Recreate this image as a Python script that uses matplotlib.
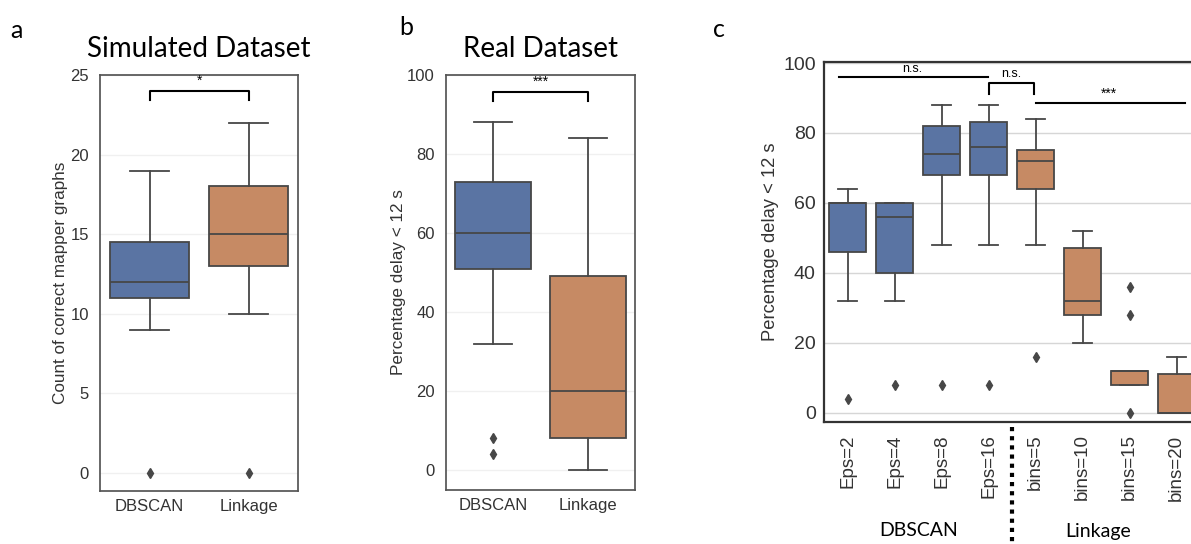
import matplotlib
matplotlib.use("Agg")
import matplotlib.pyplot as plt
import matplotlib.transforms as mtransforms

plt.rcParams['font.family'] = ['Liberation Sans', 'DejaVu Sans']

# ---- data ----
# panel a: simulated dataset, count of correct mapper graphs
a_labels = ["DBSCAN", "Linkage"]
a_q1 = [11, 13]
a_med = [12, 15]
a_q3 = [14.5, 18]
a_lo = [9, 10]
a_hi = [19, 22]
a_fliers = [[0], [0]]

# panel b: real dataset, percentage delay < 12 s
b_labels = ["DBSCAN", "Linkage"]
b_q1 = [51, 8]
b_med = [60, 20]
b_q3 = [73, 49]
b_lo = [32, 0]
b_hi = [88, 84]
b_fliers = [[4, 8], []]

# panel c: parameter sweep
c_labels = ["Eps=2", "Eps=4", "Eps=8", "Eps=16", "bins=5", "bins=10", "bins=15", "bins=20"]
c_method = ["DBSCAN"] * 4 + ["Linkage"] * 4
c_q1 = [46, 40, 68, 68, 64, 28, 8, 0]
c_med = [60, 56, 74, 76, 72, 32, 12, 0]
c_q3 = [60, 60, 82, 83, 75, 47, 12, 11]
c_lo = [32, 32, 48, 48, 48, 20, 8, 0]
c_hi = [64, 60, 88, 88, 84, 52, 12, 16]
c_fliers = [[4], [8], [8], [8], [16], [], [0, 28, 36], []]

BLUE = "#5a74a3"
ORANGE = "#c68a64"
LINE = "#474747"
colors = {"DBSCAN": BLUE, "Linkage": ORANGE}
TITLE_FONT = ['Lato', 'DejaVu Sans']


def make_stats(q1, med, q3, lo, hi, fliers):
    return [dict(q1=q1[i], med=med[i], q3=q3[i], whislo=lo[i], whishi=hi[i], fliers=fliers[i])
            for i in range(len(q1))]


def draw_boxes(ax, stats, box_colors, lw=1.3):
    bp = ax.bxp(stats, positions=range(len(stats)), widths=0.8, patch_artist=True,
                boxprops=dict(edgecolor=LINE, linewidth=lw),
                medianprops=dict(color=LINE, linewidth=lw),
                whiskerprops=dict(color=LINE, linewidth=lw),
                capprops=dict(color=LINE, linewidth=lw),
                flierprops=dict(marker='d', markersize=5, markerfacecolor=LINE,
                                markeredgecolor=LINE))
    for patch, col in zip(bp['boxes'], box_colors):
        patch.set_facecolor(col)
    return bp


def style_axes(ax, spine_col="#555555", grid_col="#f0f0f0"):
    for s in ax.spines.values():
        s.set_color(spine_col)
        s.set_linewidth(1.25)
    ax.yaxis.grid(True, color=grid_col, linewidth=1)
    ax.set_axisbelow(True)
    ax.tick_params(length=0, colors="#333333")


def bracket(ax, x1, x2, y, h, text, fs=10):
    ax.plot([x1, x1, x2, x2], [y - h, y, y, y - h], color="black", linewidth=1.5)
    ax.text((x1 + x2) / 2, y + h * 0.3, text, ha="center", va="bottom", fontsize=fs)


fig = plt.figure(figsize=(11.91, 5.44), dpi=100)

# ---- panel a ----
ax_a = fig.add_axes([0.0840, 0.0974, 0.1662, 0.7647])
draw_boxes(ax_a, make_stats(a_q1, a_med, a_q3, a_lo, a_hi, a_fliers), [BLUE, ORANGE])
style_axes(ax_a)
ax_a.set_xlim(-0.5, 1.5)
ax_a.set_ylim(-1.13, 25)
ax_a.set_yticks([0, 5, 10, 15, 20, 25])
ax_a.set_xticks(range(len(a_labels)))
ax_a.set_xticklabels(a_labels, fontsize=12)
ax_a.tick_params(axis='y', labelsize=12, pad=8)
ax_a.tick_params(axis='x', pad=6)
ax_a.set_ylabel("Count of correct mapper graphs", fontsize=12.3, color="#333333", labelpad=2)
bracket(ax_a, 0, 1, 24.0, 0.6, "*")
ax_a.set_title("Simulated Dataset", fontsize=20, family=TITLE_FONT, pad=13)

# ---- panel b ----
ax_b = fig.add_axes([0.3745, 0.0993, 0.1587, 0.7629])
draw_boxes(ax_b, make_stats(b_q1, b_med, b_q3, b_lo, b_hi, b_fliers), [BLUE, ORANGE])
style_axes(ax_b)
ax_b.set_xlim(-0.5, 1.5)
ax_b.set_ylim(-5.06, 100)
ax_b.set_yticks([0, 20, 40, 60, 80, 100])
ax_b.set_xticks(range(len(b_labels)))
ax_b.set_xticklabels(b_labels, fontsize=12)
ax_b.tick_params(axis='y', labelsize=12, pad=8)
ax_b.tick_params(axis='x', pad=6)
ax_b.set_ylabel("Percentage delay < 12 s", fontsize=12.3, color="#333333", labelpad=1)
bracket(ax_b, 0, 1, 95.7, 2.4, "***")
ax_b.set_title("Real Dataset", fontsize=20, family=TITLE_FONT, pad=13)

# ---- panel c (runs past the right edge, as in the reference) ----
ax_c = fig.add_axes([0.6919, 0.2243, 0.3157, 0.6618])
draw_boxes(ax_c, make_stats(c_q1, c_med, c_q3, c_lo, c_hi, c_fliers),
           [colors[m] for m in c_method])
style_axes(ax_c, spine_col="#333333", grid_col="#d6d6d6")
for s in ax_c.spines.values():
    s.set_linewidth(1.6)
ax_c.set_xlim(-0.5, 7.5)
ax_c.set_ylim(-2.6, 100.3)
ax_c.set_yticks([0, 20, 40, 60, 80, 100])
ax_c.set_xticks(range(len(c_labels)))
ax_c.set_xticklabels(c_labels, rotation=90, fontsize=13.5)
ax_c.tick_params(axis='y', labelsize=14, pad=6)
ax_c.tick_params(axis='x', pad=9)
ax_c.set_ylabel("Percentage delay < 12 s", fontsize=13.2, color="#333333", labelpad=3)

# significance marks
ax_c.plot([-0.19, 2.98], [96, 96], color="black", linewidth=1.5)
ax_c.text(1.38, 96.6, "n.s.", ha="center", va="bottom", fontsize=9)
bracket(ax_c, 3.0, 3.96, 94.2, 3.2, "n.s.", fs=9)
ax_c.plot([4.0, 7.17], [88.6, 88.6], color="black", linewidth=1.5)
ax_c.text(5.57, 89.3, "***", ha="center", va="bottom", fontsize=10)

# dotted separator between the two methods, below the axis
trans = mtransforms.blended_transform_factory(ax_c.transData, ax_c.transAxes)
ax_c.plot([3.5, 3.5], [-0.015, -0.34], transform=trans, color="black",
          linestyle=(0, (1, 1.2)), linewidth=3, clip_on=False)
fig.text(919 / 1191, 13 / 544, "DBSCAN", ha="center", va="center", fontsize=14, family=TITLE_FONT)
fig.text(1098 / 1191, 13 / 544, "Linkage", ha="center", va="center", fontsize=14, family=TITLE_FONT)

# panel letters
fig.text(10 / 1191, 1 - 38 / 544, "a", fontsize=18, family=TITLE_FONT)
fig.text(399 / 1191, 1 - 35 / 544, "b", fontsize=18, family=TITLE_FONT)
fig.text(713 / 1191, 1 - 37 / 544, "c", fontsize=18, family=TITLE_FONT)

fig.savefig("out.png", dpi=100)
